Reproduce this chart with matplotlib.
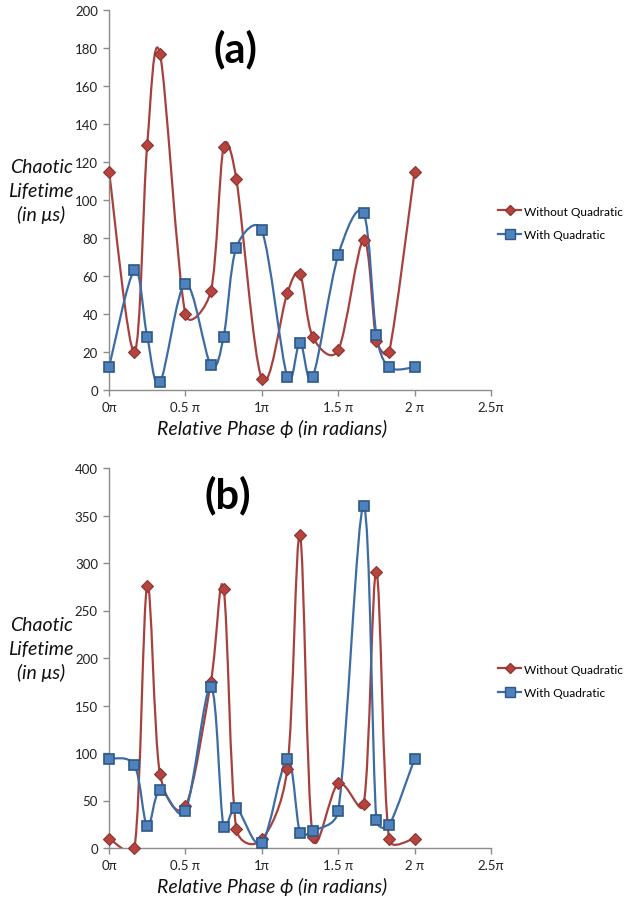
import numpy as np
import matplotlib.pyplot as plt
from matplotlib.path import Path
from matplotlib.patches import PathPatch
from matplotlib.lines import Line2D

# ---------------------------------------------------------------------------
# Datos (fase en unidades de pi)
# ---------------------------------------------------------------------------
fase = [0, 1/6, 1/4, 1/3, 1/2, 2/3, 3/4, 5/6, 1, 7/6, 5/4, 4/3, 3/2, 5/3, 7/4, 11/6, 2]

sin_quad_a = [115, 20, 129, 177, 40, 52, 128, 111, 6, 51, 61, 28, 21, 79, 26, 20, 115]
con_quad_a = [12, 63, 28, 4, 56, 13, 28, 75, 84, 7, 25, 7, 71, 93, 29, 12, 12]

sin_quad_b = [10, 0, 276, 78, 44, 175, 273, 20, 9, 83, 329, 12, 68, 46, 291, 9, 10]
con_quad_b = [94, 87, 23, 61, 39, 170, 22, 42, 5, 94, 16, 18, 39, 360, 29, 24, 94]

xticks = [0, 0.5, 1, 1.5, 2, 2.5]
xticklabels = ["0π", "0.5 π", "1π", "1.5 π", "2 π", "2.5π"]

ROJO_LINEA = '#A8413D'
ROJO_MARCA = '#B5433E'
ROJO_BORDE = '#8E3431'
AZUL_LINEA = '#3C6CA6'
AZUL_MARCA = '#4F81BD'
AZUL_BORDE = '#2E5888'

FUENTE = ['Lato', 'DejaVu Sans']


def curva_suave(ax, x, y, color):
    """Linea suavizada estilo Excel (Bezier cubica, brazos limitados en pixeles)."""
    pts = ax.transData.transform(np.column_stack([x, y]))
    n = len(pts)
    verts = [pts[0]]
    codes = [Path.MOVETO]
    for i in range(n - 1):
        p0 = pts[max(i - 1, 0)]
        p1 = pts[i]
        p2 = pts[i + 1]
        p3 = pts[min(i + 2, n - 1)]
        d12 = np.hypot(*(p2 - p1))
        d02 = np.hypot(*(p2 - p0))
        d13 = np.hypot(*(p3 - p1))
        f1 = min(1 / 6, d12 / (2 * d02)) if d02 > 0 else 0
        f2 = min(1 / 6, d12 / (2 * d13)) if d13 > 0 else 0
        c1 = p1 + (p2 - p0) * f1
        c2 = p2 - (p3 - p1) * f2
        verts += [c1, c2, p2]
        codes += [Path.CURVE4] * 3
    verts = ax.transData.inverted().transform(np.array(verts))
    ax.add_patch(PathPatch(Path(verts, codes), facecolor='none', edgecolor=color,
                           linewidth=1.6, clip_on=True, zorder=2))


def panel(ax, sin_q, con_q, ymax, ystep, letra, pos_letra):
    ax.set_xlim(0, 2.5)
    ax.set_ylim(0, ymax)
    curva_suave(ax, fase, sin_q, ROJO_LINEA)
    curva_suave(ax, fase, con_q, AZUL_LINEA)
    ax.plot(fase, sin_q, linestyle='none', marker='D', markersize=6.5,
            markerfacecolor=ROJO_MARCA, markeredgecolor=ROJO_BORDE,
            markeredgewidth=0.8, zorder=3, clip_on=False)
    ax.plot(fase, con_q, linestyle='none', marker='s', markersize=7.5,
            markerfacecolor=AZUL_MARCA, markeredgecolor=AZUL_BORDE,
            markeredgewidth=1.2, zorder=4, clip_on=False)

    ax.set_xticks(xticks)
    ax.set_xticklabels(xticklabels)
    ax.set_yticks(np.arange(0, ymax + 1, ystep))
    for lado in ['top', 'right']:
        ax.spines[lado].set_visible(False)
    for lado in ['left', 'bottom']:
        ax.spines[lado].set_color('#8C8C8C')
        ax.spines[lado].set_linewidth(1.0)
    ax.tick_params(axis='both', colors='#8C8C8C', length=4, width=1.0,
                   labelcolor='#222222', labelsize=9.5, pad=4)
    for t in ax.get_xticklabels() + ax.get_yticklabels():
        t.set_family(FUENTE)

    ax.set_xlabel("Relative Phase ϕ (in radians)", fontsize=14, style='italic',
                  family=FUENTE, color='#111111', labelpad=4)
    ax.xaxis.set_label_coords(0.427, -0.075)
    ax.text(-0.178, 0.524, "Chaotic\nLifetime\n(in μs)", transform=ax.transAxes,
            ha='center', va='center', fontsize=14, style='italic',
            family=FUENTE, color='#111111', linespacing=1.45)
    ax.text(pos_letra[0], pos_letra[1], letra, transform=ax.transAxes,
            ha='center', va='center', fontsize=30, fontweight='bold',
            family=FUENTE, color='black')

    manejadores = [
        Line2D([0], [0], color=ROJO_LINEA, lw=1.6, marker='D', markersize=5.5,
               markerfacecolor=ROJO_MARCA, markeredgecolor=ROJO_BORDE),
        Line2D([0], [0], color=AZUL_LINEA, lw=1.6, marker='s', markersize=6.5,
               markerfacecolor=AZUL_MARCA, markeredgecolor=AZUL_BORDE),
    ]
    ax.legend(manejadores, ["Without Quadratic", "With Quadratic"],
              loc='center left', bbox_to_anchor=(1.0, 0.44), frameon=False,
              prop={'family': FUENTE, 'size': 8.6}, handlelength=1.9,
              handletextpad=0.25, labelspacing=1.05, borderaxespad=0.2)


fig = plt.figure(figsize=(6.34, 9.03), dpi=100)
fig.patch.set_facecolor('white')

ax1 = fig.add_axes([109 / 634, 1 - 391 / 903, 382 / 634, 380 / 903])
ax2 = fig.add_axes([109 / 634, 1 - 849 / 903, 382 / 634, 380 / 903])

panel(ax1, sin_quad_a, con_quad_a, 200, 20, "(a)", (0.33, 0.9))
panel(ax2, sin_quad_b, con_quad_b, 400, 50, "(b)", (0.312, 0.93))

fig.savefig("out.png", dpi=100)
